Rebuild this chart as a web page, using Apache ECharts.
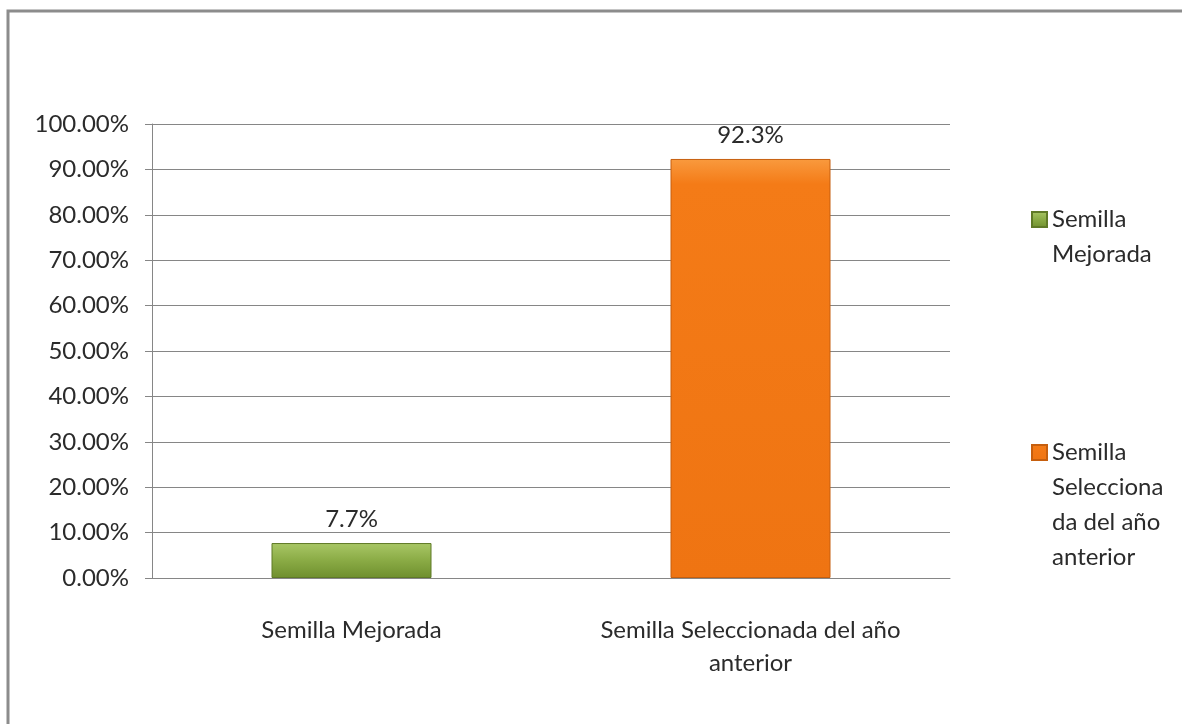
<!DOCTYPE html>
<html>
<head>
<meta charset="utf-8">
<script src="https://cdn.jsdelivr.net/npm/echarts@6/dist/echarts.min.js"></script>
<style>
  html, body { margin: 0; padding: 0; background: #fff; }
  #chart { width: 1182px; height: 724px; }
</style>
</head>
<body>
<div id="chart"></div>
<script>
// datos del gráfico
var categories = ['Semilla Mejorada', 'Semilla Seleccionada del año anterior'];
var values = [7.7, 92.3];
var valueLabels = ['7.7%', '92.3%'];
var yTicks = [0, 10, 20, 30, 40, 50, 60, 70, 80, 90, 100];

var font = 'Lato';
var textColor = '#2b2b2b';

var colors = [
  new echarts.graphic.LinearGradient(0, 0, 0, 1, [
    { offset: 0, color: '#a9c766' },
    { offset: 0.5, color: '#8aab45' },
    { offset: 1, color: '#6f8f2e' }
  ]),
  new echarts.graphic.LinearGradient(0, 0, 0, 1, [
    { offset: 0, color: '#f99a3e' },
    { offset: 0.06, color: '#f47b17' },
    { offset: 1, color: '#ef7412' }
  ])
];
var borders = ['#5f7a27', '#c65f0e'];

// saltos de línea como en la leyenda original
var legendText = {
  'Semilla Mejorada': 'Semilla\nMejorada',
  'Semilla Seleccionada del año anterior': 'Semilla\nSelecciona\nda del año\nanterior'
};
var lineH = 35;

var series = categories.map(function (name, i) {
  return {
    name: name,
    type: 'bar',
    barWidth: 160,
    barGap: '-100%',
    data: values.map(function (v, j) { return j === i ? v : null; }),
    itemStyle: { color: colors[i], borderColor: borders[i], borderWidth: 1 },
    label: {
      show: true,
      position: 'top',
      distance: 12,
      fontFamily: font,
      fontSize: 24,
      color: textColor,
      formatter: function () { return valueLabels[i]; }
    }
  };
});

var chart = echarts.init(document.getElementById('chart'));
chart.setOption({
  backgroundColor: '#fff',
  animation: false,
  graphic: [{
    type: 'rect',
    shape: { x: 8, y: 11, width: 1300, height: 900 },
    style: { fill: 'none', stroke: '#8c8c8c', lineWidth: 3 },
    silent: true
  }],
  grid: { left: 152, right: 232, top: 124, bottom: 146 },
  legend: {
    orient: 'vertical',
    left: 1031,
    top: 167,
    padding: 0,
    itemGap: 58,
    itemWidth: 15,
    itemHeight: 15,
    icon: 'rect',
    // líneas vacías arriba para que el icono quede junto a la primera línea
    formatter: function (name) {
      var txt = legendText[name];
      var n = txt.split('\n').length;
      return new Array(n).join('\n') + txt;
    },
    textStyle: { fontFamily: font, fontSize: 24, color: textColor, lineHeight: lineH },
    data: categories
  },
  xAxis: {
    type: 'category',
    data: categories,
    axisLine: { lineStyle: { color: '#868686', width: 1 } },
    axisTick: { length: 12, lineStyle: { color: '#868686' } },
    axisLabel: {
      margin: 36,
      fontFamily: font,
      fontSize: 24,
      lineHeight: 33,
      color: textColor,
      formatter: function (v) { return v.replace(' del año anterior', ' del año\nanterior'); }
    }
  },
  yAxis: {
    type: 'value',
    min: yTicks[0],
    max: yTicks[yTicks.length - 1],
    interval: 10,
    axisLine: { show: true, lineStyle: { color: '#868686', width: 1 } },
    axisTick: { show: true, length: 7, lineStyle: { color: '#868686' } },
    splitLine: { lineStyle: { color: '#868686', width: 1 } },
    axisLabel: {
      margin: 23,
      fontFamily: font,
      fontSize: 24,
      color: textColor,
      formatter: function (v) { return v.toFixed(2) + '%'; }
    }
  },
  series: series
});
</script>
</body>
</html>
